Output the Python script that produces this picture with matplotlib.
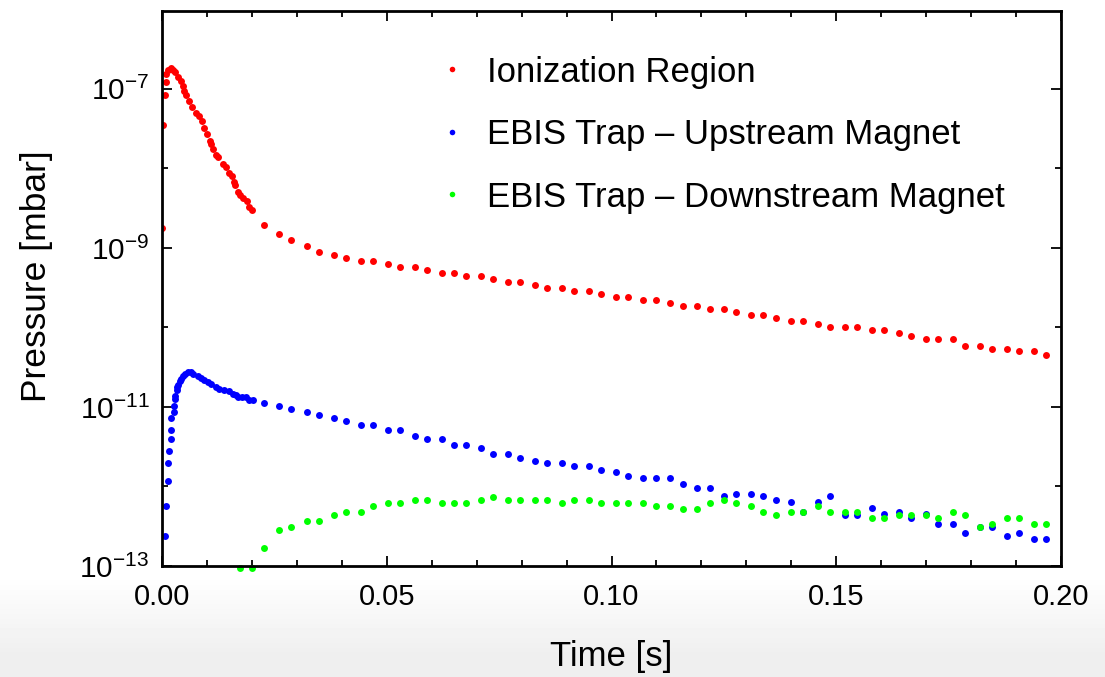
import matplotlib
matplotlib.use("Agg")
import matplotlib.pyplot as plt
import numpy as np
from matplotlib.ticker import FixedLocator, LogFormatterSciNotation, FormatStrFormatter, MultipleLocator, NullFormatter

plt.rcParams['font.family'] = ['Liberation Sans', 'DejaVu Sans']
plt.rcParams['mathtext.fontset'] = 'custom'
plt.rcParams['mathtext.rm'] = 'Liberation Sans'
plt.rcParams['mathtext.it'] = 'Liberation Sans'
plt.rcParams['mathtext.default'] = 'regular'

# shared time grid of the slower sampling (after ~0.02 s)
t_grid = [0.0228, 0.0261, 0.0288, 0.0322, 0.0349, 0.0382, 0.0409, 0.0442, 0.0469, 0.0502,
          0.0529, 0.0562, 0.0589, 0.0622, 0.0649, 0.0676, 0.0709, 0.0737, 0.0769, 0.0797,
          0.0830, 0.0857, 0.0890, 0.0917, 0.0950, 0.0977, 0.1010, 0.1037, 0.1071, 0.1098,
          0.1131, 0.1158, 0.1191, 0.1218, 0.1251, 0.1278, 0.1311, 0.1338, 0.1365, 0.1399,
          0.1425, 0.1459, 0.1486, 0.1519, 0.1546, 0.1579, 0.1606, 0.1640, 0.1666, 0.1700,
          0.1727, 0.1759, 0.1787, 0.1820, 0.1847, 0.1880, 0.1907, 0.1940, 0.1967]

# Ionization region
t_ion_early = [0.0001, 0.0003, 0.0007, 0.0008, 0.0010, 0.0013, 0.0019, 0.0025, 0.0029, 0.0036,
               0.0042, 0.0047, 0.0048, 0.0053, 0.0061, 0.0067, 0.0075, 0.0082, 0.0088, 0.0094,
               0.0101, 0.0107, 0.0108, 0.0114, 0.0120, 0.0125, 0.0135, 0.0142, 0.0148, 0.0155,
               0.0160, 0.0162, 0.0168, 0.0174, 0.0181, 0.0188, 0.0194, 0.0201]
p_ion_early = [1.8e-9, 3.5e-8, 8.5e-8, 1.23e-7, 1.55e-7, 1.75e-7, 1.84e-7, 1.75e-7, 1.64e-7, 1.42e-7,
               1.27e-7, 1.10e-7, 9.5e-8, 8.4e-8, 7.1e-8, 6.0e-8, 5.0e-8, 4.5e-8, 3.9e-8, 3.2e-8,
               2.7e-8, 2.23e-8, 2.03e-8, 1.75e-8, 1.47e-8, 1.38e-8, 1.14e-8, 1.03e-8, 8.7e-9, 8.1e-9,
               6.7e-9, 6.2e-9, 5.1e-9, 4.66e-9, 4.3e-9, 3.9e-9, 3.3e-9, 3.0e-9]
p_ion_late = [1.95e-9, 1.50e-9, 1.26e-9, 1.06e-9, 8.9e-10, 8.2e-10, 7.5e-10, 6.8e-10, 6.8e-10, 6.3e-10,
              5.75e-10, 5.75e-10, 5.3e-10, 4.84e-10, 4.84e-10, 4.44e-10, 4.44e-10, 4.03e-10, 3.69e-10, 3.69e-10,
              3.41e-10, 3.10e-10, 3.10e-10, 2.84e-10, 2.84e-10, 2.61e-10, 2.39e-10, 2.39e-10, 2.19e-10, 2.19e-10,
              2.01e-10, 1.84e-10, 1.84e-10, 1.69e-10, 1.69e-10, 1.55e-10, 1.42e-10, 1.42e-10, 1.30e-10, 1.19e-10,
              1.19e-10, 1.09e-10, 1.00e-10, 1.00e-10, 1.00e-10, 9.2e-11, 9.2e-11, 8.4e-11, 7.7e-11, 7.1e-11,
              7.1e-11, 7.1e-11, 5.9e-11, 5.9e-11, 5.4e-11, 5.4e-11, 5.0e-11, 5.0e-11, 4.5e-11]

# EBIS trap - upstream magnet
t_up_early = [0.0006, 0.0008, 0.0013, 0.0014, 0.0015, 0.0019, 0.0020, 0.0021, 0.0026, 0.0027,
              0.0028, 0.0029, 0.0033, 0.0034, 0.0036, 0.0040, 0.0042, 0.0046, 0.0051, 0.0057,
              0.0064, 0.0070, 0.0079, 0.0086, 0.0093, 0.0103, 0.0109, 0.0120, 0.0127, 0.0138,
              0.0148, 0.0159, 0.0165, 0.0170, 0.0177, 0.0187, 0.0194, 0.0202]
p_up_early = [2.4e-13, 5.75e-13, 1.16e-12, 1.95e-12, 2.79e-12, 3.95e-12, 5.1e-12, 7.3e-12, 8.65e-12, 1.04e-11,
              1.26e-11, 1.36e-11, 1.61e-11, 1.79e-11, 1.91e-11, 2.10e-11, 2.25e-11, 2.43e-11, 2.61e-11, 2.74e-11,
              2.74e-11, 2.63e-11, 2.48e-11, 2.32e-11, 2.17e-11, 2.07e-11, 1.95e-11, 1.79e-11, 1.66e-11, 1.62e-11,
              1.57e-11, 1.47e-11, 1.43e-11, 1.32e-11, 1.32e-11, 1.32e-11, 1.24e-11, 1.21e-11]
p_up_late = [1.12e-11, 1.02e-11, 9.4e-12, 8.55e-12, 7.85e-12, 7.3e-12, 6.6e-12, 6.0e-12, 6.0e-12, 5.1e-12,
             5.1e-12, 4.27e-12, 3.9e-12, 3.9e-12, 3.28e-12, 3.28e-12, 3.01e-12, 2.53e-12, 2.53e-12, 2.30e-12,
             2.11e-12, 1.95e-12, 1.95e-12, 1.79e-12, 1.79e-12, 1.62e-12, 1.50e-12, 1.37e-12, 1.26e-12, 1.26e-12,
             1.26e-12, 1.06e-12, 9.7e-13, 9.7e-13, 7.5e-13, 8.15e-13, 8.15e-13, 7.5e-13, 6.85e-13, 6.3e-13,
             4.8e-13, 6.3e-13, 7.5e-13, 4.4e-13, 4.4e-13, 5.3e-13, 4.44e-13, 4.83e-13, 4.03e-13, 4.44e-13,
             3.38e-13, 3.38e-13, 2.6e-13, 3.1e-13, 3.1e-13, 2.39e-13, 2.6e-13, 2.19e-13, 2.19e-13]

# EBIS trap - downstream magnet
t_down_early = [0.0174, 0.0201]
p_down_early = [9.3e-14, 9.3e-14]
p_down_late = [1.68e-13, 2.84e-13, 3.1e-13, 3.69e-13, 3.69e-13, 4.4e-13, 4.8e-13, 4.8e-13, 5.7e-13, 6.2e-13,
               6.2e-13, 6.8e-13, 6.8e-13, 6.2e-13, 6.2e-13, 6.2e-13, 6.8e-13, 7.4e-13, 6.8e-13, 6.8e-13,
               6.8e-13, 6.8e-13, 6.2e-13, 6.8e-13, 6.8e-13, 6.2e-13, 6.2e-13, 6.2e-13, 6.2e-13, 5.7e-13,
               5.7e-13, 5.2e-13, 5.2e-13, 6.2e-13, 6.8e-13, 6.2e-13, 5.7e-13, 4.8e-13, 4.4e-13, 4.8e-13,
               4.8e-13, 5.7e-13, 4.8e-13, 4.8e-13, 4.8e-13, 4.03e-13, 4.03e-13, 4.4e-13, 4.4e-13, 4.4e-13,
               4.03e-13, 4.8e-13, 4.4e-13, 3.1e-13, 3.38e-13, 4.03e-13, 4.03e-13, 3.38e-13, 3.38e-13]

labels = ["Ionization Region", "EBIS Trap \u2013 Upstream Magnet", "EBIS Trap \u2013 Downstream Magnet"]
colors = ["#ff0000", "#0000ff", "#00ff00"]

fig = plt.figure(figsize=(11.05, 6.77), dpi=100)

# faint grey slide background at the bottom
bg = fig.add_axes([0, 0, 1, 1], zorder=-10)
rows = np.arange(677)
shade = 1 - 0.065 * np.clip((rows - 575) / 80, 0, 1)
grad = np.column_stack([shade, shade])
bg.imshow(grad, cmap='gray', vmin=0, vmax=1, aspect='auto', extent=[0, 1, 0, 1], origin='upper')
bg.axis('off')

ax = fig.add_axes([0.1466, 0.164, 0.8136, 0.8198])
ax.patch.set_alpha(0)

series = [
    (t_ion_early + t_grid, p_ion_early + p_ion_late),
    (t_up_early + t_grid, p_up_early + p_up_late),
    (t_down_early + t_grid, p_down_early + p_down_late),
]
for (t, p), lab, c in zip(series, labels, colors):
    ax.plot(t, p, 'o', ms=5, color=c, mec='none', label=lab, clip_on=(c != "#00ff00"))

ax.set_yscale('log')
ax.set_xlim(0, 0.2)
ax.set_ylim(1e-13, 10 ** -6.02)

ax.xaxis.set_major_locator(MultipleLocator(0.05))
ax.xaxis.set_minor_locator(MultipleLocator(0.01))
ax.xaxis.set_major_formatter(FormatStrFormatter('%.2f'))
ax.yaxis.set_major_locator(FixedLocator([1e-13, 1e-11, 1e-9, 1e-7]))
ax.yaxis.set_minor_locator(FixedLocator([1e-12, 1e-10, 1e-8]))
ax.yaxis.set_major_formatter(LogFormatterSciNotation())
ax.yaxis.set_minor_formatter(NullFormatter())

ax.tick_params(which='both', direction='in', top=True, right=True, color='black')
ax.tick_params(axis='x', labelsize=21, pad=12)
ax.tick_params(axis='y', labelsize=21.5, pad=9)
ax.tick_params(which='major', length=7, width=1.3)
ax.tick_params(which='minor', length=4.5, width=1.3)
for s in ax.spines.values():
    s.set_linewidth(2)

ax.set_xlabel("Time [s]", fontsize=25, labelpad=21)
ax.set_ylabel("Pressure [mbar]", fontsize=25.5)
ax.yaxis.set_label_coords(-0.121, 0.5225)

ax.legend(loc='upper left', bbox_to_anchor=(0.3995, 0.918), bbox_transform=fig.transFigure,
          frameon=False, fontsize=25, markerscale=0.8, handlelength=0.6, handletextpad=0.7,
          borderpad=0, borderaxespad=0, labelspacing=0.85)

fig.savefig("out.png", dpi=100)
